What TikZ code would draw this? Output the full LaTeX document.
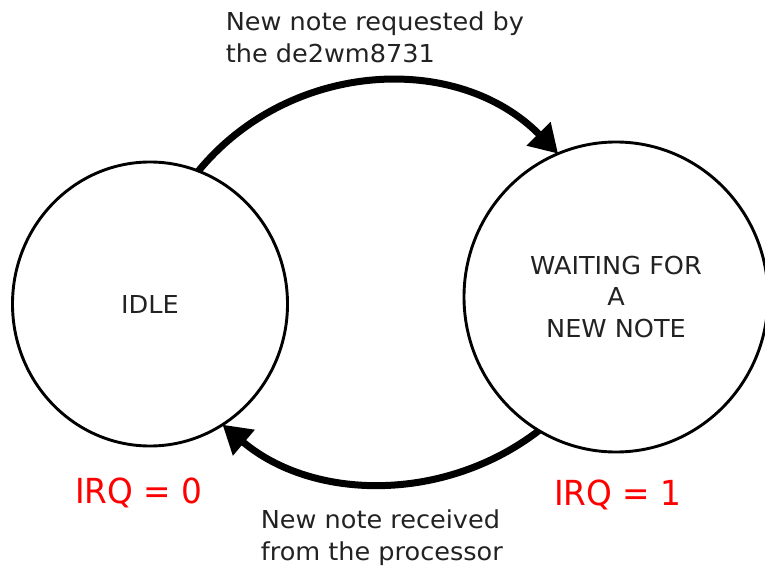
\documentclass[tikz,border=0pt]{standalone}
\usepackage{fontspec}
\setmainfont[FakeStretch=1.035]{DejaVu Sans}
\newfontfamily\irqfont[FakeStretch=0.95]{DejaVu Sans}
\usetikzlibrary{shapes.geometric,arrows.meta}
\definecolor{ink}{HTML}{222222}
\definecolor{irqred}{HTML}{FF0000}
\begin{document}
\begin{tikzpicture}[x=1pt,y=1pt,
  state/.style={ellipse, draw, line width=2.9pt, inner sep=0pt, outer sep=0pt,
    text=ink, align=center, font=\fontsize{24.7}{31.5}\selectfont},
  note/.style={text=ink, align=left, inner sep=0pt, anchor=base west,
    font=\fontsize{24.7}{32}\selectfont},
  irq/.style={text=irqred, inner sep=0pt, anchor=base west,
    font=\irqfont\fontsize{34.5}{40}\selectfont},
  trans/.style={line width=7pt, -{Triangle[length=28pt,width=32pt]}}]
\useasboundingbox (0,0) rectangle (765,566);

% the two states
\node[state, minimum width=275pt, minimum height=284pt] (idle) at (150,262) {IDLE};
\node[state, minimum width=304pt, minimum height=310pt] (wait) at (616,269)
  {WAITING FOR\\A\\NEW NOTE};

% transitions
\draw[trans] (idle.70) to[out=50.6, in=134.5, looseness=1.02] (wait.112);
\draw[trans] (wait.240) to[out=217.6, in=-40.2, looseness=0.958] (idle.301);

% transition captions (base anchor sits on the last line)
\node[note] (req) at (225.6,503) {New note requested by\\the de2wm8731};
\node[note] (rec) at (260.6,6) {New note received\\from the processor};

% interrupt line level in each state
\node[irq] (irq0) at (75,63) {IRQ = 0};
\node[irq] (irq1) at (554,61) {IRQ = 1};
\end{tikzpicture}
\end{document}
